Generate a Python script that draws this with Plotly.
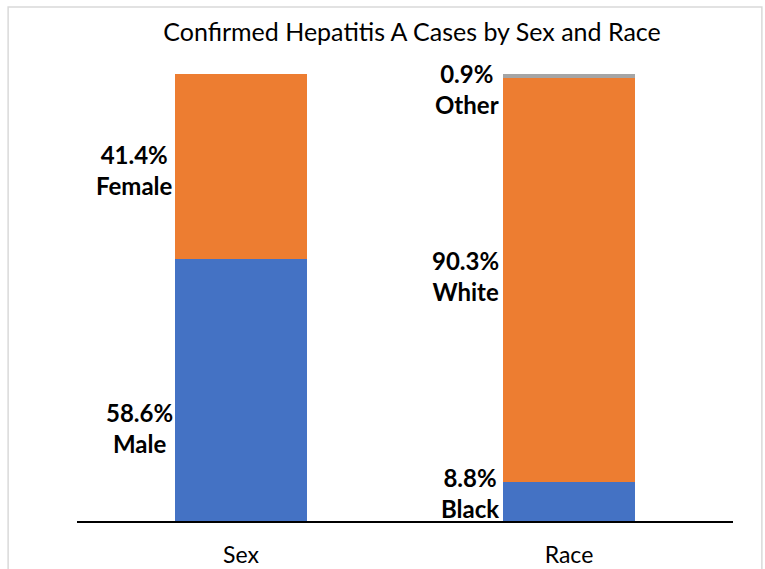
import plotly.graph_objects as go

categories = ["Sex", "Race"]
title_text = "Confirmed Hepatitis A Cases by Sex and Race"

# series: bottom / middle / top
bottom_names = ["Male", "Black"]
bottom_vals = [58.6, 8.8]
middle_names = ["Female", "White"]
middle_vals = [41.4, 90.3]
top_names = [None, "Other"]
top_vals = [0, 0.9]

colors = {"bottom": "#4472C4", "middle": "#ED7D31", "top": "#A5A5A5"}
FONT = "Lato"

fig = go.Figure()
fig.add_bar(x=categories, y=bottom_vals, marker_color=colors["bottom"], marker_line_width=0, hoverinfo="skip")
fig.add_bar(x=categories, y=middle_vals, marker_color=colors["middle"], marker_line_width=0, hoverinfo="skip")
fig.add_bar(x=categories, y=top_vals, marker_color=colors["top"], marker_line_width=0, hoverinfo="skip")

# label positions (y in data units, center of text block)
label_pos = {
    ("Sex", "bottom"): 20.8,
    ("Sex", "middle"): 78.5,
    ("Race", "bottom"): 6.2,
    ("Race", "middle"): 54.9,
    ("Race", "top"): 96.7,
}
bar_width = 0.4
anns = []
for i, cat in enumerate(categories):
    for key, names, vals in [("bottom", bottom_names, bottom_vals),
                             ("middle", middle_names, middle_vals),
                             ("top", top_names, top_vals)]:
        if names[i] is None:
            continue
        anns.append(dict(
            x=i - bar_width / 2 - (0.0 if i == 0 else 0.006), y=label_pos[(cat, key)], xref="x", yref="y",
            text=f"{vals[i]:.1f}%<br>{names[i]}", showarrow=False,
            xanchor="right", yanchor="middle", align="center",
            font=dict(family=FONT, size=24, color="black", weight="bold"),
        ))

fig.update_layout(
    barmode="stack",
    bargap=0.6,
    width=765, height=569,
    margin=dict(l=77, r=32, t=74, b=48, autoexpand=False),
    paper_bgcolor="white", plot_bgcolor="white",
    showlegend=False,
    title=dict(text=title_text, x=412 / 765, xanchor="center", y=1 - 32 / 569, yanchor="middle",
               font=dict(family=FONT, size=25, color="black")),
    xaxis=dict(showline=True, linecolor="black", linewidth=2, ticks="", showgrid=False,
               tickfont=dict(family=FONT, size=23, color="black"), ticklabelstandoff=12,
               range=[-0.5, 1.5], automargin=False),
    yaxis=dict(range=[0, 100], visible=False, showgrid=False, automargin=False),
    annotations=anns,
    shapes=[dict(type="rect", xref="paper", yref="paper", x0=-0.105, x1=1.044, y0=-0.2, y1=1.15,
                 line=dict(color="#D9D9D9", width=1.5), layer="below")],
)
fig.write_html("out.html")
